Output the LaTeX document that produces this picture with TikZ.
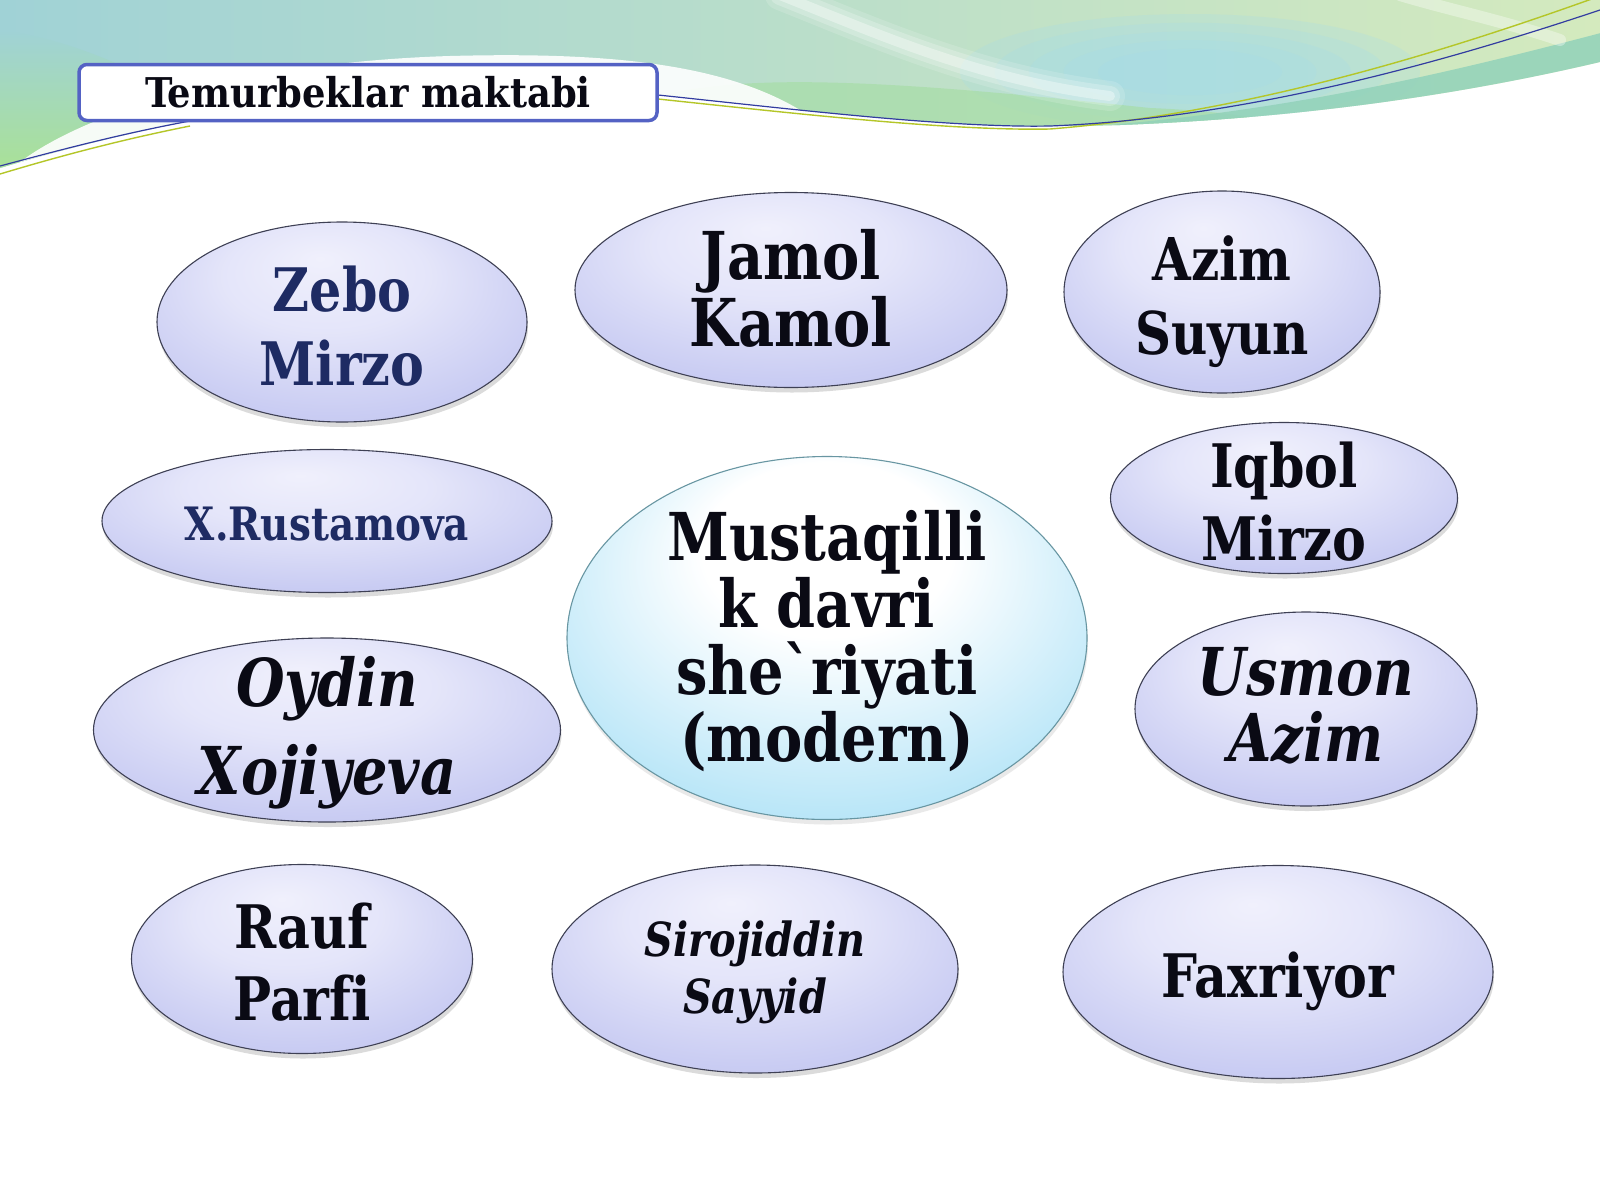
\documentclass[tikz,border=0pt]{standalone}
\usepackage{fontspec}
\setmainfont{DejaVu Serif Condensed}[FakeStretch=0.94]
\newfontfamily\titlefont{DejaVu Serif Condensed}
\usetikzlibrary{shapes.geometric,shadows}

\definecolor{lavW}{RGB}{240,240,252}
\definecolor{lavM}{RGB}{216,218,247}
\definecolor{lavA}{RGB}{186,190,238}
\definecolor{lavB}{RGB}{160,166,230}
\definecolor{cyA}{RGB}{188,231,248}
\definecolor{cyB}{RGB}{148,213,243}
\definecolor{navy}{RGB}{30,43,99}
\definecolor{ink}{RGB}{10,10,20}
\definecolor{edge}{RGB}{62,64,84}
\definecolor{tealedge}{RGB}{104,150,162}
\definecolor{boxblue}{RGB}{84,98,196}
\definecolor{bgteal}{RGB}{160,210,214}
\definecolor{bggreen}{RGB}{170,226,146}
\definecolor{bgpale}{RGB}{212,234,190}
\definecolor{bgblue}{RGB}{164,220,236}
\definecolor{bgtg}{RGB}{146,210,186}
\definecolor{lineblue}{RGB}{50,60,160}
\definecolor{lineyel}{RGB}{180,198,40}

\pgfdeclareradialshading{lavsh}{\pgfpoint{-3bp}{16bp}}{color(0bp)=(lavW); color(14bp)=(lavW!50!lavM); color(30bp)=(lavM!50!lavA); color(44bp)=(lavA); color(50bp)=(lavB)}
\pgfdeclareradialshading{cysh}{\pgfpoint{0bp}{16bp}}{color(0bp)=(white); color(12bp)=(white); color(30bp)=(cyA); color(44bp)=(cyB); color(50bp)=(cyB)}

\tikzset{
  ell/.style={ellipse, draw=edge, line width=1.1pt, shading=lavsh, inner sep=0pt,
    drop shadow={shadow xshift=1pt, shadow yshift=-5pt, opacity=0.2, fill=black!70}},
  cell/.style={ellipse, draw=tealedge, line width=1.1pt, shading=cysh, inner sep=0pt,
    drop shadow={shadow xshift=1pt, shadow yshift=-5pt, opacity=0.14, fill=black!60}},
  txt/.style={align=center, text=ink, inner sep=0pt},
}

\begin{document}
\begin{tikzpicture}[x=1pt, y=-1pt]
\useasboundingbox (0,0) rectangle (1600,1200);
\fill[white] (0,0) rectangle (1600,1200);

% ---------- decorative top band ----------
\def\bandpath{(0,0) -- (1600,0) -- (1600,62)
  .. controls (1460,95) and (1300,118) .. (1120,125)
  .. controls (1090,126) and (1070,126) .. (1050,126)
  .. controls (950,128) and (800,110) .. (658,95)
  -- (190,121) .. controls (120,135) and (60,150) .. (0,168) -- cycle}
\begin{scope}
  \clip \bandpath;
  \shade[left color=bgteal, right color=bgpale] (0,0) rectangle (1600,200);
  \shade[top color=bgteal, bottom color=bggreen] (0,30) .. controls (80,40) and (160,80) .. (240,130) -- (0,180) -- cycle;
  \foreach \s in {1.0,0.85,0.7,0.55,0.4} {
    \fill[bgblue, opacity=0.24] (1190,72) ellipse ({230*\s} and {58*\s});
  }
  \fill[bggreen!70!bgteal, opacity=0.7] (660,96) .. controls (760,68) and (960,88) .. (1150,108)
     .. controls (1200,110) and (1250,115) .. (1300,126) -- (1300,160) -- (660,160) -- cycle;
  \draw[bgtg, line width=44pt, opacity=0.85, line cap=round] (1120,146) .. controls (1300,130) and (1450,96) .. (1630,48);
  \fill[white, opacity=0.9] (10,170) .. controls (80,110) and (250,62) .. (450,56)
     .. controls (600,52) and (720,62) .. (800,110) -- (0,200) -- cycle;
  \foreach \w/\o in {30/0.15,20/0.22,10/0.35} {
    \draw[white, line width=\w pt, opacity=\o, line cap=round] (780,-5) .. controls (880,35) and (980,80) .. (1110,96);
  }
  \draw[white, line width=12pt, opacity=0.35, line cap=round] (1400,-5) .. controls (1450,10) and (1500,20) .. (1560,40);
\end{scope}
\draw[lineyel, line width=1.4pt] (0,174) .. controls (60,156) and (120,140) .. (190,126);
\draw[lineblue, line width=1.2pt] (0,166) .. controls (60,150) and (120,134) .. (190,121);
\draw[lineyel, line width=1.4pt] (658,99) .. controls (800,114) and (950,131) .. (1050,129) .. controls (1250,113) and (1450,50) .. (1600,-4);
\draw[lineblue, line width=1.2pt] (658,95) .. controls (800,110) and (950,128) .. (1050,126) .. controls (1250,118) and (1450,60) .. (1600,10);

% ---------- title ----------
\node[draw=boxblue, line width=3.5pt, rounded corners=8pt, fill=white,
      minimum width=578pt, minimum height=56pt, inner sep=0pt] (title) at (368,92.5) {};
\node[txt, font=\titlefont\bfseries\fontsize{41}{46}\selectfont] (titletxt) at (title.center) {Temurbeklar maktabi};

% ---------- ellipses ----------
\node[ell, minimum width=370pt, minimum height=200pt] (zebo) at (342,322) {};
\node[ell, minimum width=432pt, minimum height=195pt] (jamol) at (791,290) {};
\node[ell, minimum width=316pt, minimum height=202pt] (azim) at (1222,292) {};
\node[ell, minimum width=450pt, minimum height=143pt] (rust) at (327,521) {};
\node[cell, minimum width=520pt, minimum height=363pt] (center) at (827,638) {};
\node[ell, minimum width=347pt, minimum height=151pt] (iqbol) at (1284,498) {};
\node[ell, minimum width=467pt, minimum height=184pt] (oydin) at (327,730) {};
\node[ell, minimum width=342pt, minimum height=194pt] (usmon) at (1306,709) {};
\node[ell, minimum width=341pt, minimum height=189pt] (rauf) at (302,959) {};
\node[ell, minimum width=406pt, minimum height=208pt] (siroj) at (755,969) {};
\node[ell, minimum width=430pt, minimum height=213pt] (faxr) at (1278,972) {};

% ---------- texts ----------
\node[txt, text=navy, font=\bfseries\fontsize{60}{74}\selectfont] (zebot) at ([yshift=-4pt]zebo.center) {Zebo\\Mirzo};
\node[txt, font=\bfseries\fontsize{66}{67}\selectfont] (jamolt) at ([yshift=2pt]jamol.center) {Jamol\\Kamol};
\node[txt, font=\bfseries\fontsize{59}{74}\selectfont] (azimt) at ([yshift=-10pt]azim.center) {Azim\\Suyun};
\node[txt, text=navy, font=\bfseries\fontsize{46}{52}\selectfont] (rustt) at ([yshift=-3pt]rust.center) {X.Rustamova};
\node[txt, font=\bfseries\fontsize{66}{67}\selectfont] (centert) at ([yshift=-3pt]center.center) {Mustaqilli\\k davri\\she\symbol{"02CB}riyati\\(modern)};
\node[txt, font=\bfseries\fontsize{60}{73}\selectfont] (iqbolt) at ([yshift=-4pt]iqbol.center) {Iqbol\\Mirzo};
\node[txt, font=\bfseries\itshape\fontsize{66}{88}\selectfont] (oydint) at ([yshift=-3pt]oydin.center) {Oydin\\Xojiyeva};
\node[txt, font=\bfseries\itshape\fontsize{66}{66}\selectfont] (usmont) at ([yshift=3pt]usmon.center) {Usmon\\Azim};
\node[txt, font=\bfseries\fontsize{60}{72}\selectfont] (raufte) at ([yshift=-3pt]rauf.center) {Rauf\\Parf\kern0pt i};
\node[txt, font=\bfseries\itshape\fontsize{47}{57}\selectfont] (sirojt) at ([yshift=-3pt]siroj.center) {Sirojiddin\\Sayyid};
\node[txt, font=\bfseries\fontsize{60}{70}\selectfont] (faxrt) at ([yshift=-9pt]faxr.center) {Faxriyor};
\end{tikzpicture}
\end{document}
